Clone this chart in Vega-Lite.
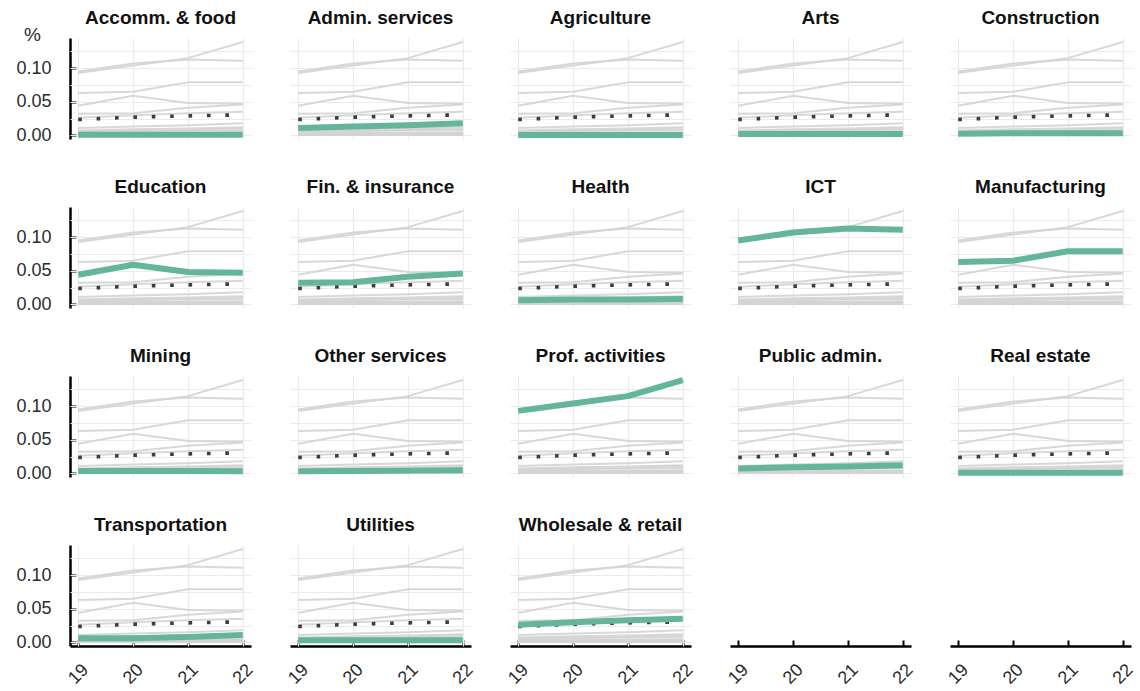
{
  "$schema": "https://vega.github.io/schema/vega-lite/v6.json",
  "padding": {"left": 15, "top": 9, "right": 5, "bottom": 5},
  "background": "white",
  "title": {
    "text": "%",
    "anchor": "start",
    "frame": "bounds",
    "orient": "top",
    "baseline": "alphabetic",
    "fontSize": 19,
    "fontWeight": "normal",
    "color": "#2b2b2b",
    "offset": 0,
    "dx": 8,
    "dy": 51
  },
  "config": {
    "font": "Liberation Sans",
    "view": {"stroke": null},
    "facet": {"spacing": {"column": 39, "row": 39}}
  },
  "datasets": {
    "shares": [
      {"sector": "Accomm. & food", "year": 19, "share": 0.001},
      {"sector": "Accomm. & food", "year": 20, "share": 0.001},
      {"sector": "Accomm. & food", "year": 21, "share": 0.001},
      {"sector": "Accomm. & food", "year": 22, "share": 0.001},
      {"sector": "Admin. services", "year": 19, "share": 0.011},
      {"sector": "Admin. services", "year": 20, "share": 0.013},
      {"sector": "Admin. services", "year": 21, "share": 0.015},
      {"sector": "Admin. services", "year": 22, "share": 0.018},
      {"sector": "Agriculture", "year": 19, "share": 0.0005},
      {"sector": "Agriculture", "year": 20, "share": 0.0005},
      {"sector": "Agriculture", "year": 21, "share": 0.0005},
      {"sector": "Agriculture", "year": 22, "share": 0.0005},
      {"sector": "Arts", "year": 19, "share": 0.002},
      {"sector": "Arts", "year": 20, "share": 0.002},
      {"sector": "Arts", "year": 21, "share": 0.002},
      {"sector": "Arts", "year": 22, "share": 0.002},
      {"sector": "Construction", "year": 19, "share": 0.0025},
      {"sector": "Construction", "year": 20, "share": 0.003},
      {"sector": "Construction", "year": 21, "share": 0.003},
      {"sector": "Construction", "year": 22, "share": 0.003},
      {"sector": "Education", "year": 19, "share": 0.044},
      {"sector": "Education", "year": 20, "share": 0.059},
      {"sector": "Education", "year": 21, "share": 0.048},
      {"sector": "Education", "year": 22, "share": 0.047},
      {"sector": "Fin. & insurance", "year": 19, "share": 0.032},
      {"sector": "Fin. & insurance", "year": 20, "share": 0.033},
      {"sector": "Fin. & insurance", "year": 21, "share": 0.041},
      {"sector": "Fin. & insurance", "year": 22, "share": 0.046},
      {"sector": "Health", "year": 19, "share": 0.006},
      {"sector": "Health", "year": 20, "share": 0.007},
      {"sector": "Health", "year": 21, "share": 0.007},
      {"sector": "Health", "year": 22, "share": 0.008},
      {"sector": "ICT", "year": 19, "share": 0.095},
      {"sector": "ICT", "year": 20, "share": 0.107},
      {"sector": "ICT", "year": 21, "share": 0.113},
      {"sector": "ICT", "year": 22, "share": 0.111},
      {"sector": "Manufacturing", "year": 19, "share": 0.063},
      {"sector": "Manufacturing", "year": 20, "share": 0.065},
      {"sector": "Manufacturing", "year": 21, "share": 0.079},
      {"sector": "Manufacturing", "year": 22, "share": 0.079},
      {"sector": "Mining", "year": 19, "share": 0.0035},
      {"sector": "Mining", "year": 20, "share": 0.0035},
      {"sector": "Mining", "year": 21, "share": 0.0035},
      {"sector": "Mining", "year": 22, "share": 0.003},
      {"sector": "Other services", "year": 19, "share": 0.003},
      {"sector": "Other services", "year": 20, "share": 0.0035},
      {"sector": "Other services", "year": 21, "share": 0.004},
      {"sector": "Other services", "year": 22, "share": 0.0045},
      {"sector": "Prof. activities", "year": 19, "share": 0.093},
      {"sector": "Prof. activities", "year": 20, "share": 0.104},
      {"sector": "Prof. activities", "year": 21, "share": 0.115},
      {"sector": "Prof. activities", "year": 22, "share": 0.139},
      {"sector": "Public admin.", "year": 19, "share": 0.007},
      {"sector": "Public admin.", "year": 20, "share": 0.009},
      {"sector": "Public admin.", "year": 21, "share": 0.010},
      {"sector": "Public admin.", "year": 22, "share": 0.012},
      {"sector": "Real estate", "year": 19, "share": 0.001},
      {"sector": "Real estate", "year": 20, "share": 0.001},
      {"sector": "Real estate", "year": 21, "share": 0.001},
      {"sector": "Real estate", "year": 22, "share": 0.001},
      {"sector": "Transportation", "year": 19, "share": 0.006},
      {"sector": "Transportation", "year": 20, "share": 0.006},
      {"sector": "Transportation", "year": 21, "share": 0.008},
      {"sector": "Transportation", "year": 22, "share": 0.011},
      {"sector": "Utilities", "year": 19, "share": 0.003},
      {"sector": "Utilities", "year": 20, "share": 0.003},
      {"sector": "Utilities", "year": 21, "share": 0.003},
      {"sector": "Utilities", "year": 22, "share": 0.003},
      {"sector": "Wholesale & retail", "year": 19, "share": 0.026},
      {"sector": "Wholesale & retail", "year": 20, "share": 0.030},
      {"sector": "Wholesale & retail", "year": 21, "share": 0.033},
      {"sector": "Wholesale & retail", "year": 22, "share": 0.035}
    ],
    "average": [
      {"year": 19, "share": 0.0235},
      {"year": 20, "share": 0.027},
      {"year": 21, "share": 0.029},
      {"year": 22, "share": 0.0305}
    ]
  },
  "data": {"name": "shares"},
  "columns": 5,
  "facet": {
    "field": "sector",
    "type": "nominal",
    "sort": [
      "Accomm. & food", "Admin. services", "Agriculture", "Arts", "Construction",
      "Education", "Fin. & insurance", "Health", "ICT", "Manufacturing",
      "Mining", "Other services", "Prof. activities", "Public admin.", "Real estate",
      "Transportation", "Utilities", "Wholesale & retail"
    ],
    "header": {
      "title": null,
      "labelFontSize": 19,
      "labelFontWeight": "bold",
      "labelColor": "#111111",
      "labelPadding": 10
    }
  },
  "spec": {
    "width": 181,
    "height": 101,
    "encoding": {
      "x": {
        "field": "year",
        "type": "quantitative",
        "scale": {"domain": [18.85, 22.15], "nice": false, "zero": false},
        "axis": {
          "title": null,
          "values": [19, 19.5, 20, 20.5, 21, 21.5, 22],
          "labelExpr": "datum.value % 1 == 0 ? datum.label : ''",
          "format": "d",
          "labelAngle": -45,
          "labelAlign": "center",
          "labelBaseline": "middle",
          "labelPadding": 34,
          "labelFontSize": 18,
          "labelColor": "#2b2b2b",
          "tickColor": "#000000",
          "tickWidth": 2,
          "tickSize": -6,
          "tickOpacity": {"condition": {"test": "datum.value % 1 == 0", "value": 1}, "value": 0},
          "domainColor": "#000000",
          "domainWidth": 2.5,
          "gridColor": "#ebebeb",
          "gridWidth": 1.2
        }
      },
      "y": {
        "field": "share",
        "type": "quantitative",
        "scale": {"domain": [-0.0055, 0.145], "nice": false, "zero": false},
        "axis": {
          "title": null,
          "values": [0, 0.025, 0.05, 0.075, 0.1, 0.125],
          "format": ".2f",
          "labelExpr": "datum.value == 0 || datum.value == 0.05 || datum.value == 0.1 ? datum.label : ''",
          "labelFontSize": 18,
          "labelColor": "#2b2b2b",
          "labelPadding": 25,
          "tickColor": "#000000",
          "tickWidth": 2,
          "tickSize": -6,
          "tickOpacity": {"condition": {"test": "datum.value == 0 || datum.value == 0.05 || datum.value == 0.1", "value": 1}, "value": 0},
          "domainColor": "#000000",
          "domainWidth": 2.5,
          "gridColor": "#ebebeb",
          "gridWidth": 1.2
        }
      }
    },
    "layer": [
      {
        "data": {"name": "shares"},
        "mark": {"type": "line", "color": "#d4d4d4", "strokeWidth": 2, "opacity": 0.9},
        "encoding": {"detail": {"field": "sector", "type": "nominal"}}
      },
      {
        "data": {"name": "average"},
        "mark": {"type": "line", "color": "#3d3d3d", "strokeWidth": 3.6, "strokeDash": [3.6, 14.8], "strokeCap": "butt"},
        "encoding": {}
      },
      {
        "mark": {"type": "line", "color": "#63b59d", "strokeWidth": 6, "strokeCap": "butt", "strokeJoin": "round"},
        "encoding": {}
      }
    ]
  }
}
